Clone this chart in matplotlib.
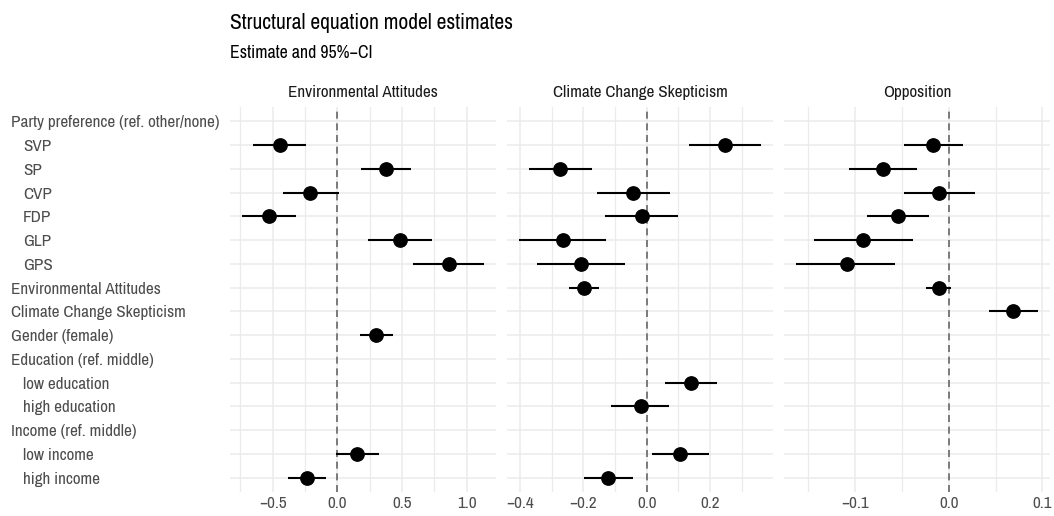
import matplotlib
matplotlib.use("Agg")
import matplotlib.pyplot as plt
from matplotlib.transforms import ScaledTranslation
import numpy as np

plt.rcParams['font.family'] = ['Archivo Narrow', 'Liberation Sans Narrow', 'DejaVu Sans']

rows = ["Party preference (ref. other/none)", "SVP", "SP", "CVP", "FDP", "GLP", "GPS",
        "Environmental Attitudes", "Climate Change Skepticism", "Gender (female)",
        "Education (ref. middle)", "low education", "high education",
        "Income (ref. middle)", "low income", "high income"]
indented = {"SVP", "SP", "CVP", "FDP", "GLP", "GPS", "low education", "high education",
            "low income", "high income"}

panels = ["Environmental Attitudes", "Climate Change Skepticism", "Opposition"]

# Environmental Attitudes
ea_terms = ["SVP", "SP", "CVP", "FDP", "GLP", "GPS", "Gender (female)", "low income", "high income"]
ea_est = [-0.446, 0.379, -0.209, -0.525, 0.482, 0.860, 0.301, 0.152, -0.234]
ea_lo = [-0.652, 0.183, -0.423, -0.734, 0.234, 0.585, 0.172, -0.013, -0.379]
ea_hi = [-0.240, 0.572, 0.010, -0.322, 0.729, 1.136, 0.430, 0.322, -0.085]

# Climate Change Skepticism
cc_terms = ["SVP", "SP", "CVP", "FDP", "GLP", "GPS", "Environmental Attitudes",
            "low education", "high education", "low income", "high income"]
cc_est = [0.249, -0.274, -0.042, -0.016, -0.266, -0.209, -0.197, 0.139, -0.019, 0.106, -0.121]
cc_lo = [0.135, -0.371, -0.157, -0.131, -0.403, -0.347, -0.245, 0.058, -0.114, 0.018, -0.198]
cc_hi = [0.361, -0.173, 0.075, 0.098, -0.128, -0.069, -0.151, 0.223, 0.071, 0.198, -0.043]

# Opposition
op_terms = ["SVP", "SP", "CVP", "FDP", "GLP", "GPS", "Environmental Attitudes",
            "Climate Change Skepticism"]
op_est = [-0.017, -0.070, -0.010, -0.054, -0.091, -0.109, -0.010, 0.069]
op_lo = [-0.048, -0.106, -0.048, -0.087, -0.144, -0.163, -0.024, 0.043]
op_hi = [0.015, -0.034, 0.028, -0.021, -0.038, -0.057, 0.0025, 0.095]

xlims = [(-0.83, 1.229), (-0.442, 0.40), (-0.176, 0.108)]
major_ticks = [[-0.5, 0.0, 0.5, 1.0], [-0.4, -0.2, 0.0, 0.2], [-0.1, 0.0, 0.1]]
major_labels = [["\u22120.5", "0.0", "0.5", "1.0"], ["\u22120.4", "\u22120.2", "0.0", "0.2"],
                ["\u22120.1", "0.0", "0.1"]]
minor_ticks = [[-0.75, -0.25, 0.25, 0.75], [-0.3, -0.1, 0.1, 0.3], [-0.15, -0.05, 0.05]]

data = [(ea_terms, ea_est, ea_lo, ea_hi), (cc_terms, cc_est, cc_lo, cc_hi),
        (op_terms, op_est, op_lo, op_hi)]

W, H = 1054, 516
fig, axes = plt.subplots(1, 3, figsize=(W / 100, H / 100), dpi=100, sharey=True)
fig.subplots_adjust(left=230 / W, right=1050 / W, bottom=1 - 492 / H, top=1 - 107 / H,
                    wspace=0.0395)

n = len(rows)
ypos = {r: n - 1 - i for i, r in enumerate(rows)}
grid_c = "#EBEBEB"
txt_c = "#4D4D4D"
fs = 12.3

for k, ax in enumerate(axes):
    terms, est, lo, hi = data[k]
    for s in ax.spines.values():
        s.set_visible(False)
    ax.set_xlim(*xlims[k])
    ax.set_ylim(-0.6, n - 1 + 0.6)
    ax.set_xticks(major_ticks[k])
    ax.set_xticklabels(major_labels[k])
    ax.set_xticks(minor_ticks[k], minor=True)
    ax.set_yticks(range(n))
    ax.grid(True, which="major", color=grid_c, linewidth=1.1, zorder=0)
    ax.grid(True, which="minor", axis="x", color=grid_c, linewidth=0.9, zorder=0)
    ax.set_axisbelow(True)
    ax.tick_params(axis="both", which="both", length=0, colors=txt_c, labelsize=fs)
    ax.tick_params(axis="x", pad=3)
    ax.axvline(0, color="#7A7A7A", linestyle=(0, (3.6, 2.4)), linewidth=1.4, zorder=1)
    y = [ypos[t] for t in terms]
    ax.hlines(y, lo, hi, color="black", linewidth=1.5, zorder=2)
    ax.plot(est, y, "o", color="black", markersize=9.6, zorder=3)
    ax.set_title(panels[k], fontsize=fs, color="#1A1A1A", pad=7)

ax0 = axes[0]
ax0.set_yticklabels(rows[::-1])
pad_pt = (230 - 11) * 72 / 100
ax0.tick_params(axis="y", pad=pad_pt)
for lab in ax0.get_yticklabels():
    lab.set_horizontalalignment("left")
    if lab.get_text() in indented:
        lab.set_transform(lab.get_transform() + ScaledTranslation(12 / 100, 0, fig.dpi_scale_trans))
for ax in axes[1:]:
    ax.tick_params(axis="y", labelleft=False)

fig.text(230 / W, 1 - 23 / H, "Structural equation model estimates", fontsize=15.5,
         color="black", ha="left", va="center")
fig.text(230 / W, 1 - 53 / H, "Estimate and 95%\u2212CI", fontsize=12.8,
         color="black", ha="left", va="center")

fig.savefig("out.png", dpi=100, facecolor="white")
